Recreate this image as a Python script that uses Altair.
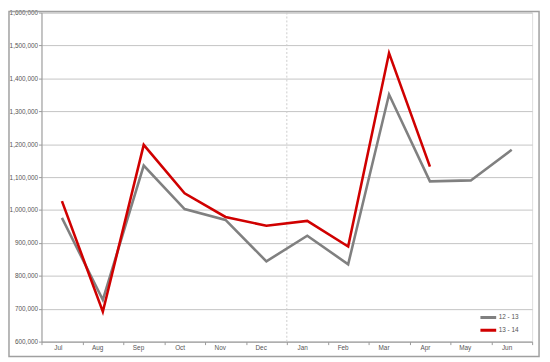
import altair as alt
import pandas as pd

months = ["Jul", "Aug", "Sep", "Oct", "Nov", "Dec", "Jan", "Feb", "Mar", "Apr", "May", "Jun"]
s1213 = [976000, 727000, 1135000, 1003000, 970000, 844000, 922000, 835000, 1351000, 1087000, 1090000, 1183000]
s1314 = [1027000, 691000, 1198000, 1051000, 979000, 952000, 967000, 889000, 1477000, 1132000]
series_names = ["12 - 13", "13 - 14"]
series_colors = ["#808080", "#d00000"]
y_ticks = [600000, 700000, 800000, 900000, 1000000, 1100000, 1200000, 1300000, 1400000, 1500000, 1600000]
divider_month = ["Jan"]

rows = []
for m, v in zip(months, s1213):
    rows.append({"month": m, "series": series_names[0], "value": v})
for m, v in zip(months, s1314):
    rows.append({"month": m, "series": series_names[1], "value": v})
df = pd.DataFrame(rows)

FONT = "Liberation Sans"

xscale = alt.Scale(domain=months, paddingInner=0, paddingOuter=0)
yscale = alt.Scale(domain=[600000, 1600000], nice=False, zero=False)

lines = alt.Chart(df).mark_line(strokeWidth=2.6).encode(
    x=alt.X("month:N", scale=xscale, sort=months, title=None,
            axis=alt.Axis(labelAngle=0, tickBand="extent", grid=False, domainColor="#999999",
                          tickColor="#999999", tickSize=3, labelFontSize=6.5, labelColor="#555555",
                          labelFont=FONT, labelPadding=3)),
    y=alt.Y("value:Q", scale=yscale, title=None,
            axis=alt.Axis(values=y_ticks, format=",d", gridColor="#c4c4c4", domainColor="#999999",
                          tickColor="#999999", tickSize=3, labelFontSize=6.5, labelColor="#555555",
                          labelFont=FONT, labelPadding=1)),
    color=alt.Color("series:N", scale=alt.Scale(domain=series_names, range=series_colors),
                    legend=alt.Legend(title=None, orient="none", legendX=444, legendY=303,
                                      symbolType="stroke", symbolSize=256, symbolStrokeWidth=3,
                                      labelFontSize=6.5, labelFont=FONT, labelColor="#555555",
                                      rowPadding=0, clipHeight=13, labelOffset=1)),
)

divider = alt.Chart(pd.DataFrame({"month": divider_month})).mark_rule(
    color="#cccccc", strokeDash=[2, 2], strokeWidth=1
).encode(x=alt.X("month:N", scale=xscale, sort=months, bandPosition=0))

frame = alt.Chart(pd.DataFrame({"a": [0]})).mark_rect(
    fill=None, stroke="#a0a0a0", strokeWidth=1.5
).encode(x=alt.value(-33), x2=alt.value(505), y=alt.value(-1), y2=alt.value(349))

chart = alt.layer(divider, lines, frame).properties(
    width=498, height=334,
    autosize=alt.AutoSizeParams(type="none"),
    padding={"left": 34, "top": 2, "right": 10, "bottom": 17},
).configure_view(stroke=None).configure(background="white")

chart.save("out.html", embed_options={"renderer": "svg", "actions": False})
